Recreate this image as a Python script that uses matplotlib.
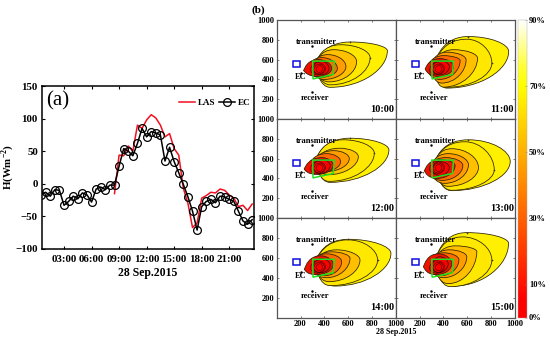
import numpy as np
import matplotlib
matplotlib.use('Agg')
import matplotlib.pyplot as plt
from matplotlib.path import Path
from matplotlib.patches import PathPatch, Polygon, Rectangle
from matplotlib.colors import LinearSegmentedColormap, Normalize
from matplotlib.cm import ScalarMappable

plt.rcParams['font.family'] = 'Liberation Serif'
plt.rcParams['font.weight'] = 'bold'
plt.rcParams['mathtext.fontset'] = 'custom'
plt.rcParams['mathtext.bf'] = 'Liberation Serif:bold'
plt.rcParams['mathtext.rm'] = 'Liberation Serif:bold'

# panel (a)
ec_hours = [0.5, 1, 1.5, 2, 2.5, 3, 3.5, 4, 4.5, 5, 5.5, 6, 6.5, 7, 7.5, 8, 8.5, 9, 9.5, 10, 10.5, 11, 11.5, 12,
            12.5, 13, 13.5, 14, 14.5, 15, 15.5, 16, 16.5, 17, 17.5, 18, 18.5, 19, 19.5, 20, 20.5, 21, 21.5, 22,
            22.5, 23, 23.5]
ec_flux = [-17, -13, -19, -9, -10, -33, -27, -19, -23, -14, -17, -28, -8, -5, -9, -2, -2, 27, 54, 50, 43, 62, 85, 72,
           80, 78, 75, 35, 56, 34, 17, -1, -20, -42, -71, -35, -27, -24, -29, -19, -20, -24, -27, -42,
           -57, -62, -55]
las_hours = [8.5, 9, 9.5, 10, 10.5, 11, 11.5, 12, 12.5, 13, 13.5, 14, 14.5, 15, 15.5, 16, 16.5, 17, 17.5, 18, 18.5,
             19, 19.5, 20, 20.5, 21, 21.5, 22, 22.5, 23, 23.5]
las_flux = [-15, 44, 43, 58, 50, 90, 85, 98, 106, 101, 90, 72, 77, 54, 44, -7, -30, -67, -60, -22, -18,
            -13, -14, -8, -10, -17, -22, -35, -33, -41, -31]
hour_ticks = [3, 6, 9, 12, 15, 18, 21]
hour_labels = ['03:00', '06:00', '09:00', '12:00', '15:00', '18:00', '21:00']
flux_ticks = [-100, -50, 0, 50, 100, 150]

# panel (b): each contour is left, top, right and bottom point (x, y of each)
times = ['10:00', '11:00', '12:00', '13:00', '14:00', '15:00']
contours_10 = [(325, 560, 620, 778, 930, 690, 450, 320), (325, 560, 540, 750, 785, 620, 450, 345),
               (320, 540, 480, 700, 672, 580, 440, 375), (290, 520, 430, 650, 582, 530, 400, 400),
               (255, 500, 380, 620, 510, 510, 370, 420), (226, 490, 350, 600, 462, 510, 350, 430),
               (300, 500, 370, 585, 440, 510, 370, 445)]
contours_11 = [(325, 570, 610, 833, 947, 682, 428, 312), (325, 560, 596, 806, 806, 565, 430, 320),
               (320, 540, 485, 700, 686, 615, 400, 322), (290, 530, 430, 675, 590, 598, 386, 363),
               (260, 510, 400, 640, 540, 590, 370, 400), (246, 504, 370, 610, 485, 530, 360, 430),
               (300, 510, 370, 590, 450, 530, 370, 445)]
contours_12 = [(325, 590, 616, 806, 943, 689, 448, 360), (325, 580, 560, 790, 820, 655, 440, 370),
               (320, 560, 532, 705, 686, 620, 434, 437), (290, 530, 480, 680, 610, 600, 420, 470),
               (260, 510, 420, 650, 537, 570, 400, 470), (230, 494, 380, 610, 476, 530, 340, 440),
               (300, 510, 380, 590, 450, 530, 370, 450)]
contours_13 = [(325, 570, 610, 790, 960, 571, 470, 276), (325, 560, 580, 770, 826, 487, 470, 280),
               (315, 530, 470, 700, 694, 510, 440, 320), (285, 500, 440, 650, 610, 537, 410, 350),
               (260, 490, 420, 610, 563, 530, 390, 380), (240, 477, 370, 590, 498, 530, 350, 400),
               (300, 490, 370, 570, 450, 510, 370, 430)]
contours_14 = [(322, 560, 602, 786, 960, 645, 490, 316), (322, 550, 600, 780, 848, 578, 450, 320),
               (318, 530, 500, 680, 700, 578, 440, 360), (290, 510, 460, 660, 616, 595, 420, 400),
               (260, 500, 420, 640, 546, 560, 400, 420), (232, 484, 370, 620, 476, 530, 330, 430),
               (300, 490, 370, 590, 450, 530, 370, 450)]
contours_15 = [(330, 580, 596, 853, 946, 746, 484, 316), (328, 570, 560, 810, 806, 578, 460, 310),
               (320, 550, 500, 720, 680, 662, 440, 340), (285, 530, 450, 680, 596, 610, 400, 400),
               (260, 520, 400, 650, 530, 580, 380, 420), (232, 510, 360, 640, 470, 540, 340, 430),
               (300, 510, 370, 610, 440, 540, 360, 450)]
all_contours = [contours_10, contours_11, contours_12, contours_13, contours_14, contours_15]
# small rings packed in the middle of every footprint
core_rings = [(280, 495, 345, 570, 410, 510, 345, 445), (310, 500, 360, 555, 400, 505, 355, 455),
              (330, 505, 365, 540, 385, 505, 360, 470)]
contour_colors = ['#FFF000', '#FFE800', '#FFC000', '#FF9C00', '#FF6A00', '#F01000', '#FA0000']
tick_vals = [200, 400, 600, 800, 1000]
cbar_ticks = [0, 10, 30, 50, 70, 90]
cbar_labels = ['0%', '10%', '30%', '50%', '70%', '90%']

W, H = 550.0, 339.0


def px_axes(x0, y0, x1, y1):
    return fig.add_axes([x0 / W, 1 - y1 / H, (x1 - x0) / W, (y1 - y0) / H])


def egg(c):
    xl, yl, xt, yt, xr, yr, xb, yb = c
    kl, kt, kr, ks = 0.3, 0.72, 0.5, 0.55
    verts = [(xl, yl),
             (xl + 0.1 * (xt - xl), yl + kl * (yt - yl)), (xt - kt * (xt - xl), yt), (xt, yt),
             (xt + ks * (xr - xt), yt), (xr, yr + kr * (yt - yr)), (xr, yr),
             (xr, yr - kr * (yr - yb)), (xb + ks * (xr - xb), yb), (xb, yb),
             (xb - kt * (xb - xl), yb), (xl + 0.1 * (xb - xl), yl - kl * (yl - yb)), (xl, yl)]
    codes = [Path.MOVETO] + [Path.CURVE4] * 12
    return Path(verts, codes)


fig = plt.figure(figsize=(W / 100, H / 100), dpi=100)

# left panel
ax = px_axes(42, 86, 254, 249)
ax.plot(las_hours, las_flux, color='#F01020', lw=1.1, label='LAS')
ax.plot(ec_hours, ec_flux, color='black', lw=1.1, marker='o', ms=5.6, mfc='none', mew=0.9, label='EC')
ax.set_xlim(0.6, 23.7)
ax.set_ylim(-100, 150)
ax.set_xticks(hour_ticks)
ax.set_xticklabels(hour_labels)
ax.set_yticks(flux_ticks)
ax.tick_params(direction='in', top=True, right=True, length=2.5, width=0.8, labelsize=7.8, pad=3)
ax.tick_params(axis='x', pad=4)
ax.set_xlabel('28 Sep.2015', fontsize=8.5, fontweight='bold', labelpad=2.5)
ax.set_ylabel(r'H(Wm$^{\mathbf{-2}}$)', fontsize=7.8, fontweight='bold')
ax.yaxis.set_label_coords(-26 / 212, 0.5)
for s in ax.spines.values():
    s.set_linewidth(1.1)
ax.text(0.02, 0.965, '(a)', transform=ax.transAxes, fontsize=15, fontweight='normal', va='top', ha='left')
ax.legend(loc='upper right', ncol=2, frameon=False, fontsize=6.5, handlelength=1.8, handletextpad=0.3,
          columnspacing=0.4, bbox_to_anchor=(0.985, 0.92), borderaxespad=0, borderpad=0)

# footprint panels
col_x = [276.7, 395.7, 515]
row_y = [20, 119, 218, 317.5]
for i, t in enumerate(times):
    r, c = i // 2, i % 2
    a = px_axes(col_x[c], row_y[r], col_x[c + 1], row_y[r + 1])
    for cont, col in zip(all_contours[i], contour_colors):
        a.add_patch(PathPatch(egg(cont), fc=col, ec='#2a2000', lw=0.55))
    for ring in core_rings:
        a.add_patch(PathPatch(egg(ring), fc='none', ec='#300000', lw=0.35))
    # tiny marks left on the outer contours
    a.plot([all_contours[i][0][2], all_contours[i][1][4]], [all_contours[i][0][3], all_contours[i][1][5]],
           ls='none', marker='+', ms=2, mew=0.4, color='#333333')
    a.add_patch(Polygon([(303, 585), (485, 585), (475, 450), (305, 405)], closed=True, fill=False,
                        ec='#20E020', lw=1.1))
    a.add_patch(Rectangle((134, 524), 62, 61, fill=False, ec='#1010E0', lw=1.1))
    a.plot([300, 200, 297], [740, 460, 270], ls='none', marker='.', ms=1.5, color='black')
    a.text(330, 775, 'transmitter', fontsize=6, ha='center', va='center')
    a.text(200, 420, 'EC', fontsize=6, ha='center', va='center')
    a.text(322, 215, 'receiver', fontsize=6, ha='center', va='center')
    a.text(890, 100, t, fontsize=7.5, ha='center', va='center')
    a.set_xlim(0, 1000)
    a.set_ylim(0, 1000)
    a.set_xticks(tick_vals)
    a.set_yticks(tick_vals)
    a.tick_params(direction='in', top=True, right=True, length=1.5, width=0.5, labelsize=6, pad=1.5,
                  color='#444444', labelleft=c == 0, labelbottom=r == 2)
    for s in a.spines.values():
        s.set_linewidth(0.9)
        s.set_color('#555555')

fig.text(396 / W, 1 - 331.5 / H, '28 Sep.2015', fontsize=5.8, ha='center', va='center')
fig.text(252 / W, 1 - 10 / H, '(b)', fontsize=8, ha='left', va='center')

# colorbar
cax = px_axes(518, 20, 527, 317.5)
cmap = LinearSegmentedColormap.from_list('fp', [(0, '#FF0000'), (0.06, '#FF0000'), (0.78, '#FFFF00'),
                                                (0.84, '#FFFF30'), (1, '#FFFFFF')])
cb = fig.colorbar(ScalarMappable(Normalize(0, 90), cmap), cax=cax)
cb.set_ticks(cbar_ticks)
cb.set_ticklabels(cbar_labels)
cb.ax.tick_params(direction='in', length=1.5, width=0.4, labelsize=6, pad=1.5, color='#888888')
cb.outline.set_linewidth(0.3)
cb.outline.set_edgecolor('#aaaaaa')

plt.savefig('out.png', dpi=100)
